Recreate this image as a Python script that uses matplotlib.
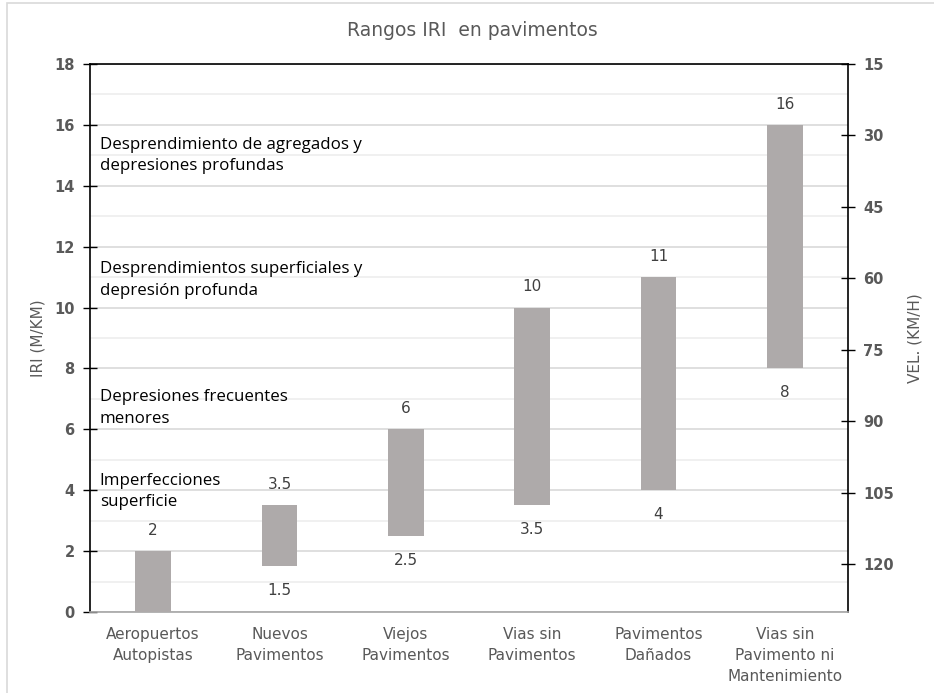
import matplotlib
matplotlib.use('Agg')
import matplotlib.pyplot as plt
from matplotlib.patches import Rectangle
from matplotlib.transforms import blended_transform_factory

# data
categorias = ['Aeropuertos\nAutopistas', 'Nuevos\nPavimentos', 'Viejos\nPavimentos',
              'Vias sin\nPavimentos', 'Pavimentos\nDañados', 'Vias sin\nPavimento ni\nMantenimiento']
iri_min = [0, 1.5, 2.5, 3.5, 4, 8]
iri_max = [2, 3.5, 6, 10, 11, 16]
vel_ticks = [15, 30, 45, 60, 75, 90, 105, 120]
notas = ['Desprendimiento de agregados y\ndepresiones profundas',
         'Desprendimientos superficiales y\ndepresión profunda',
         'Depresiones frecuentes\nmenores',
         'Imperfecciones\nsuperficie']
notas_y = [15.0, 10.9, 6.7, 3.95]

gris = '#595959'
plt.rcParams['font.family'] = 'DejaVu Sans'

fig = plt.figure(figsize=(9.34, 6.93), dpi=100)
fig.patches.append(Rectangle((7/934, -0.1), 1.2, 1.1 - 3/693, transform=fig.transFigure,
                             fill=False, edgecolor='#d9d9d9', linewidth=1.2))
ax = fig.add_axes([90/934, 81/693, 758/934, 548/693])

x = list(range(len(categorias)))
alturas = [hi - lo for lo, hi in zip(iri_min, iri_max)]
ax.bar(x, alturas, bottom=iri_min, width=0.28, color='#aeaaaa', zorder=3)

for i in x:
    ax.annotate('{:g}'.format(iri_max[i]), (i, iri_max[i]), xytext=(0, 9.5), textcoords='offset points',
                ha='center', va='bottom', fontsize=11, color='#404040')
    if iri_min[i] > 0:
        ax.annotate('{:g}'.format(iri_min[i]), (i, iri_min[i]), xytext=(0, -12), textcoords='offset points',
                    ha='center', va='top', fontsize=11, color='#404040')

trans = blended_transform_factory(ax.transAxes, ax.transData)
for t, yy in zip(notas, notas_y):
    ax.text(0.013, yy, t, transform=trans, ha='left', va='center', fontsize=12.2, family='Open Sans',
            color='black', linespacing=1.45)

ax.set_xlim(-0.5, len(categorias) - 0.5)
ax.set_ylim(0, 18)
ax.set_yticks(range(0, 19, 2))
ax.set_yticks(range(1, 18, 2), minor=True)
ax.grid(axis='y', which='major', color='#d9d9d9', linewidth=1.2, zorder=0)
ax.grid(axis='y', which='minor', color='#ededed', linewidth=1.2, zorder=0)
ax.set_xticks(x)
ax.set_xticklabels(categorias, fontsize=11, color=gris, linespacing=1.5, va='top')
ax.tick_params(axis='x', length=0, pad=11)
ax.tick_params(axis='y', which='major', direction='inout', length=10, width=1, labelsize=10.5,
               labelcolor=gris, pad=6)
ax.tick_params(axis='y', which='minor', length=0)
for lab in ax.get_yticklabels():
    lab.set_fontweight('bold')
ax.set_ylabel('IRI (M/KM)', fontsize=11, color=gris, labelpad=6)

for s in ['left', 'top', 'right']:
    ax.spines[s].set_color('black')
    ax.spines[s].set_linewidth(1.2)
ax.spines['bottom'].set_color('#a6a6a6')
ax.spines['bottom'].set_linewidth(1.2)

ax2 = ax.twinx()
ax2.set_ylim(130, 15)
ax2.set_yticks(vel_ticks)
ax2.tick_params(axis='y', direction='inout', length=10, width=1, labelsize=10.5, labelcolor=gris, pad=6)
for lab in ax2.get_yticklabels():
    lab.set_fontweight('bold')
ax2.set_ylabel('VEL. (KM/H)', fontsize=11, color=gris, labelpad=10)
for s in ['left', 'top', 'right', 'bottom']:
    ax2.spines[s].set_visible(False)

fig.text(0.506, 1 - 30/693, 'Rangos IRI  en pavimentos', ha='center', va='center', fontsize=13.5, color=gris)

fig.savefig('out.png', dpi=100)
